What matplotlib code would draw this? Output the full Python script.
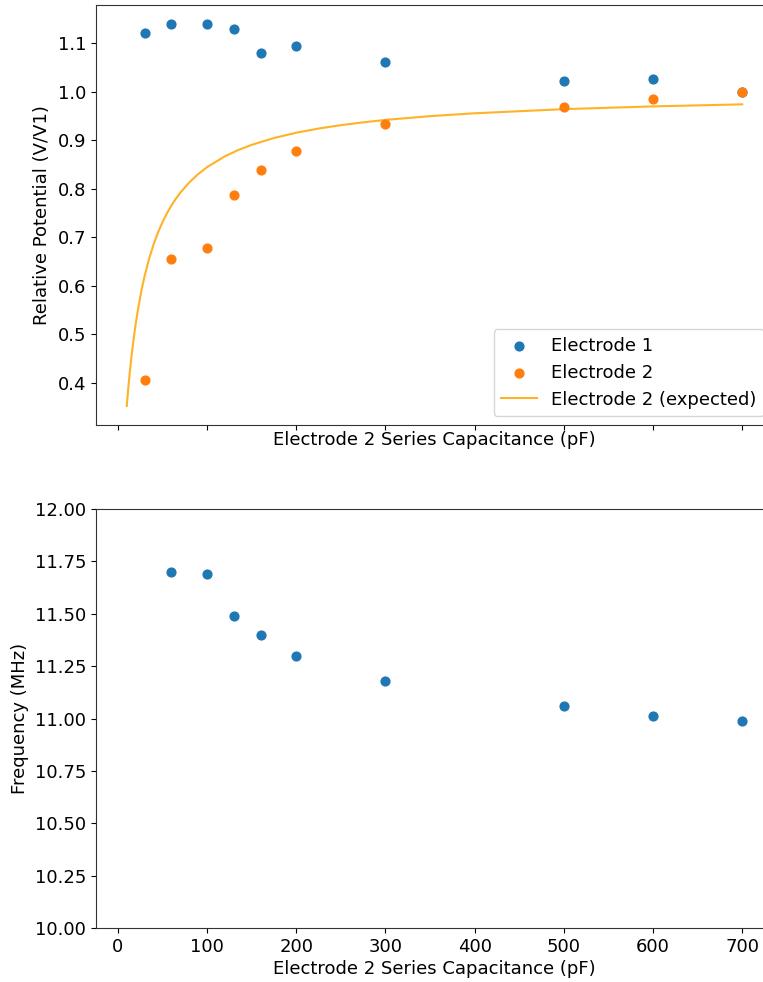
import matplotlib
matplotlib.use("Agg")
import matplotlib.pyplot as plt

cap = [30, 60, 100, 130, 160, 200, 300, 500, 600, 700]
electrode1 = [1.121, 1.140, 1.140, 1.129, 1.080, 1.095, 1.061, 1.022, 1.027, 1.000]
electrode2 = [0.407, 0.656, 0.678, 0.788, 0.839, 0.879, 0.934, 0.970, 0.985, 1.000]

exp_cap = [10, 11, 12, 13, 14, 15, 16, 18, 20, 22, 25, 27, 30, 35, 40, 45, 50,
           55, 60, 65, 70, 80, 90, 100, 120, 135, 150, 175, 200, 225, 250, 275,
           300, 350, 400, 500, 600, 700]
exp_v2 = [0.3527, 0.3748, 0.3954, 0.4147, 0.4328, 0.4498, 0.4658, 0.4952,
          0.5215, 0.5452, 0.5767, 0.5954, 0.6205, 0.6560, 0.6855, 0.7103,
          0.7315, 0.7498, 0.7658, 0.7798, 0.7923, 0.8134, 0.8306, 0.8450,
          0.8674, 0.8803, 0.8910, 0.9051, 0.9160, 0.9246, 0.9316, 0.9374,
          0.9424, 0.9502, 0.9561, 0.9646, 0.9703, 0.9745]

freq_cap = [60, 100, 130, 160, 200, 300, 500, 600, 700]
freq = [11.70, 11.69, 11.49, 11.40, 11.30, 11.18, 11.06, 11.01, 10.99]

plt.rcParams['font.size'] = 13
W, H = 763, 982
fig = plt.figure(figsize=(W / 100, H / 100), dpi=100)
ax1 = fig.add_axes([96 / W, (H - 425) / H, 677 / W, 420 / H])
ax2 = fig.add_axes([96 / W, (H - 928) / H, 677 / W, 419 / H], sharex=ax1)

ax1.scatter(cap, electrode1, color='#1f77b4', s=40, label='Electrode 1', zorder=3)
ax1.scatter(cap, electrode2, color='#ff7f0e', s=40, label='Electrode 2', zorder=3)
ax1.plot(exp_cap, exp_v2, color='orange', alpha=0.85, lw=1.5, label='Electrode 2 (expected)')
ax1.set_ylabel('Relative Potential (V/V1)', labelpad=5)
ax1.set_xlabel('Electrode 2 Series Capacitance (pF)', labelpad=0.5)
ax1.tick_params(labelbottom=False)
ax1.legend(loc='lower right')

ax2.scatter(freq_cap, freq, color='#1f77b4', s=40, zorder=3)
ax2.set_ylim(10, 12)
ax2.set_xticks([0, 100, 200, 300, 400, 500, 600, 700])
ax2.set_ylabel('Frequency (MHz)')
ax2.set_xlabel('Electrode 2 Series Capacitance (pF)', labelpad=3)

for ax in (ax1, ax2):
    for sp in ax.spines.values():
        sp.set_color('#333333')

fig.savefig('out.png', dpi=100)
